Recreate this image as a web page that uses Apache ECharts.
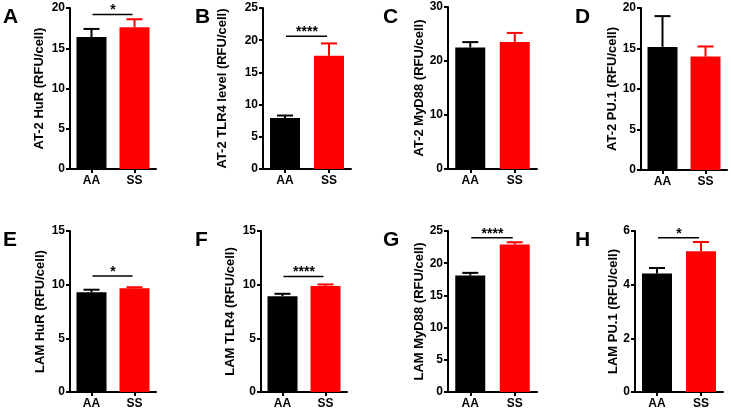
<!DOCTYPE html>
<html>
<head>
<meta charset="utf-8">
<script src="https://cdn.jsdelivr.net/npm/echarts@6/dist/echarts.min.js"></script>
<style>
html,body{margin:0;padding:0;background:#fff;}
#chart{width:731px;height:412px;}
</style>
</head>
<body>
<div id="chart"></div>
<script>
// ---- data ----
const categories = ['AA', 'SS'];
const panelLetters = ['A', 'B', 'C', 'D', 'E', 'F', 'G', 'H'];
const yTitles = [
  'AT-2 HuR (RFU/cell)',
  'AT-2 TLR4 level (RFU/cell)',
  'AT-2 MyD88 (RFU/cell)',
  'AT-2 PU.1 (RFU/cell)',
  'LAM HuR (RFU/cell)',
  'LAM TLR4 (RFU/cell)',
  'LAM MyD88 (RFU/cell)',
  'LAM PU.1 (RFU/cell)'
];
const meansAA = [16.4, 7.9, 22.5, 15.2, 9.29, 8.93, 18.1, 4.42];
const meansSS = [17.6, 17.6, 23.5, 14.0, 9.66, 9.87, 22.9, 5.25];
const errAA = [1.0, 0.4, 1.0, 3.8, 0.24, 0.22, 0.4, 0.2];
const errSS = [1.0, 1.9, 1.7, 1.25, 0.1, 0.15, 0.35, 0.34];
const yMax = [20, 25, 30, 20, 15, 15, 25, 6];
const yStep = [5, 5, 10, 5, 5, 5, 5, 2];
const sigLevel = [19.2, 20.6, null, null, 10.8, 10.76, 23.96, 5.75];
const sigText = ['*', '****', '', '', '*', '****', '****', '*'];

// ---- layout / style ----
const barColors = ['#000000', '#ff0000'];
const FONT = "'Liberation Sans', Arial, sans-serif";
const grids = [
  {left: 70, top: 8, width: 86, height: 161},
  {left: 263, top: 8, width: 88, height: 161},
  {left: 448, top: 7, width: 89, height: 162},
  {left: 641, top: 8, width: 86, height: 162},
  {left: 70, top: 231, width: 86, height: 161},
  {left: 261, top: 231, width: 86, height: 161},
  {left: 448, top: 231, width: 89, height: 161},
  {left: 635, top: 231, width: 88, height: 161}
];
const nameGaps = [24, 34, 19, 21, 23, 24, 21, 15];
const letterPos = [[3, 7], [195, 7], [383, 7], [575, 7], [3, 230], [195, 230], [383, 230], [575, 230]];

const chart = echarts.init(document.getElementById('chart'), null, {renderer: 'canvas'});

const option = {
  backgroundColor: '#ffffff',
  animation: false,
  grid: grids.map(g => Object.assign({containLabel: false}, g)),
  xAxis: grids.map((g, i) => ({
    type: 'category',
    gridIndex: i,
    data: categories,
    axisLine: {show: true, lineStyle: {color: '#000', width: 2}},
    axisTick: {show: true, alignWithLabel: true, length: 4, lineStyle: {color: '#000', width: 2}},
    axisLabel: {color: '#000', fontFamily: FONT, fontWeight: 'bold', fontSize: 12, margin: 6},
    splitLine: {show: false}
  })),
  yAxis: grids.map((g, i) => ({
    type: 'value',
    gridIndex: i,
    min: 0,
    max: yMax[i],
    interval: yStep[i],
    name: yTitles[i],
    nameLocation: 'middle',
    nameRotate: 90,
    nameGap: nameGaps[i],
    nameTextStyle: {color: '#000', fontFamily: FONT, fontWeight: 'bold', fontSize: 13},
    axisLine: {show: true, lineStyle: {color: '#000', width: 2}},
    axisTick: {show: true, length: 4, lineStyle: {color: '#000', width: 2}},
    axisLabel: {color: '#000', fontFamily: FONT, fontWeight: 'bold', fontSize: 12, margin: 5},
    splitLine: {show: false}
  })),
  series: [],
  graphic: panelLetters.map((L, i) => ({
    type: 'text',
    left: letterPos[i][0],
    top: letterPos[i][1],
    style: {text: L, fill: '#000', font: "bold 21px 'Liberation Sans', Arial, sans-serif"}
  }))
};

grids.forEach((g, i) => {
  option.series.push({
    type: 'bar',
    xAxisIndex: i,
    yAxisIndex: i,
    barWidth: 30,
    data: [
      {value: meansAA[i], itemStyle: {color: barColors[0]}},
      {value: meansSS[i], itemStyle: {color: barColors[1]}}
    ],
    z: 2
  });
  option.series.push({
    type: 'custom',
    xAxisIndex: i,
    yAxisIndex: i,
    data: [[0, meansAA[i], errAA[i]], [1, meansSS[i], errSS[i]]],
    encode: {x: 0, y: 1},
    z: 3,
    renderItem: function (params, api) {
      const c = api.value(0), m = api.value(1), e = api.value(2);
      const p0 = api.coord([c, m]);
      const p1 = api.coord([c, m + e]);
      const col = barColors[c];
      const cap = 8;
      return {
        type: 'group',
        children: [
          {type: 'line', shape: {x1: p0[0], y1: p0[1], x2: p1[0], y2: p1[1]}, style: {stroke: col, lineWidth: 2}},
          {type: 'line', shape: {x1: p1[0] - cap, y1: p1[1], x2: p1[0] + cap, y2: p1[1]}, style: {stroke: col, lineWidth: 2}}
        ]
      };
    }
  });
  if (sigLevel[i] !== null) {
    option.series.push({
      type: 'custom',
      xAxisIndex: i,
      yAxisIndex: i,
      data: [[0, 1, sigLevel[i]]],
      encode: {x: 0, y: 2},
      z: 4,
      renderItem: function (params, api) {
        const lv = api.value(2);
        const a = api.coord([0, lv]);
        const b = api.coord([1, lv]);
        return {
          type: 'group',
          children: [
            {type: 'line', shape: {x1: a[0] + 1, y1: a[1], x2: b[0] - 2, y2: b[1]}, style: {stroke: '#000', lineWidth: 1.5}},
            {type: 'text', style: {x: (a[0] + b[0]) / 2, y: a[1] + 3, text: sigText[i], align: 'center', verticalAlign: 'bottom', fill: '#000', font: "bold 14px 'Liberation Sans', Arial, sans-serif"}}
          ]
        };
      }
    });
  }
});

chart.setOption(option);
</script>
</body>
</html>
